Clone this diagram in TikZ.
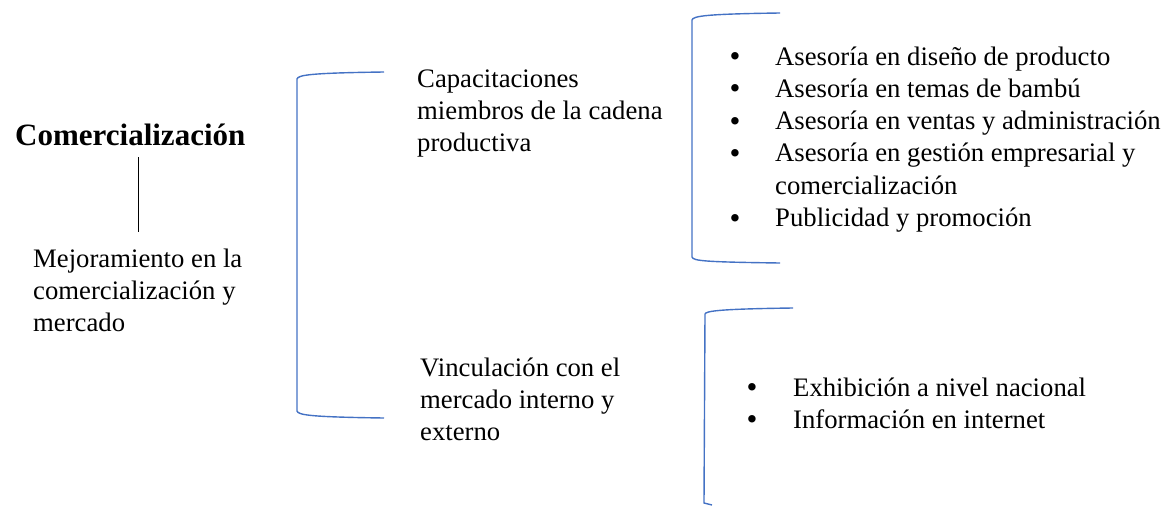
\documentclass[tikz,border=0pt]{standalone}
\usepackage{fontspec}
\setmainfont{Liberation Serif}
\definecolor{brkcol}{RGB}{68,114,196}
\begin{document}
\begin{tikzpicture}[x=1pt,y=-1pt,
  body/.style={inner sep=0pt, align=left, font=\fontsize{26.7}{31.8}\selectfont},
  item/.style={body, anchor=base west},
  bul/.style={inner sep=0pt, anchor=base, yshift=-1.5pt, font=\fontsize{31}{31}\selectfont},
  bracket/.style={draw=brkcol, line width=1.4pt},
  stem/.style={draw=black, line width=1pt}]
\useasboundingbox (0,0) rectangle (1165,506);
% left
\node[inner sep=0pt, anchor=base west, font=\fontsize{31}{36}\selectfont\bfseries] (title) at (15,145) {Comercialización};
\node[body, anchor=north west] (mej) at (33,249) {Mejoramiento en la\\comercialización y\\mercado};
\coordinate (s1) at (138,157);
\coordinate (s2) at (138,232);
\draw[stem] (s1) -- (s2);
% bracket 1
\coordinate (b1t) at (384,72);
\coordinate (b1b) at (384,418);
\draw[bracket] (b1t) .. controls (310,73) and (298,75) .. (297,79) -- (297,411) .. controls (298,415) and (310,417) .. (b1b);
\node[body, anchor=north west] (cap) at (417,70) {Capacitaciones\\miembros de la cadena\\productiva};
\node[body, anchor=north west] (vin) at (420,358) {Vinculación con el\\mercado interno y\\externo};
% bracket 2
\coordinate (b2t) at (780,13);
\coordinate (b2b) at (780,263);
\draw[bracket] (b2t) .. controls (706,14) and (693,16) .. (692,20) -- (692,257) .. controls (693,261) and (706,262) .. (b2b);
\node[bul] (p1) at (735,65) {•};
\node[item] (i1) at (775,65) {Asesoría en diseño de producto};
\node[bul] (p2) at (735,97.3) {•};
\node[item] (i2) at (775,97.3) {Asesoría en temas de bambú};
\node[bul] (p3) at (735,129.6) {•};
\node[item] (i3) at (775,129.6) {Asesoría en ventas y administración};
\node[bul] (p4) at (735,161.9) {•};
\node[item] (i4) at (775,161.9) {Asesoría en gestión empresarial y};
\node[item] (i4b) at (775,194.2) {comercialización};
\node[bul] (p5) at (735,226.5) {•};
\node[item] (i5) at (775,226.5) {Publicidad y promoción};
% bracket 3
\coordinate (b3t) at (793,308);
\coordinate (b3b) at (712,505);
\draw[bracket] (b3t) .. controls (719,309) and (706,311) .. (705,314) -- (704,503) -- (b3b);
\node[bul] (q1) at (752,396) {•};
\node[item] (j1) at (793,396) {Exhibición a nivel nacional};
\node[bul] (q2) at (752,428) {•};
\node[item] (j2) at (793,428) {Información en internet};
\end{tikzpicture}
\end{document}
